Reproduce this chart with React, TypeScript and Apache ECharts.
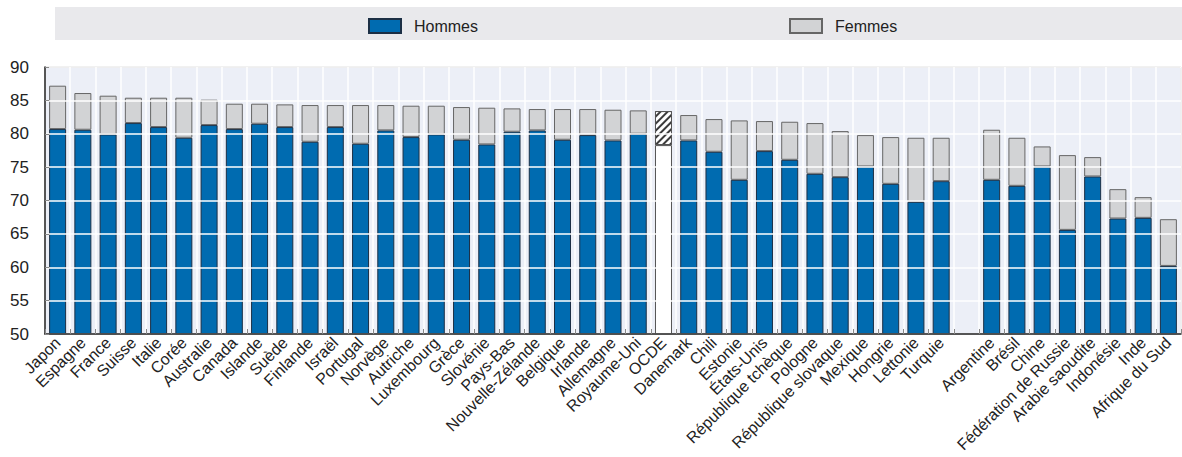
import React, { useEffect, useRef } from "react";
import * as echarts from "echarts";

const categories = [
  "Japon", "Espagne", "France", "Suisse", "Italie", "Corée", "Australie", "Canada", "Islande", "Suède",
  "Finlande", "Israël", "Portugal", "Norvège", "Autriche", "Luxembourg", "Grèce", "Slovénie", "Pays-Bas",
  "Nouvelle-Zélande", "Belgique", "Irlande", "Allemagne", "Royaume-Uni", "OCDE", "Danemark", "Chili",
  "Estonie", "États-Unis", "République tchèque", "Pologne", "République slovaque", "Mexique", "Hongrie",
  "Lettonie", "Turquie", "", "Argentine", "Brésil", "Chine", "Fédération de Russie", "Arabie saoudite",
  "Indonésie", "Inde", "Afrique du Sud",
];

const hommes: (number | null)[] = [
  80.7, 80.6, 79.9, 81.6, 81.0, 79.4, 81.3, 80.7, 81.5, 81.0,
  78.8, 81.0, 78.5, 80.5, 79.5, 79.9, 79.1, 78.4, 80.3,
  80.5, 79.1, 79.8, 79.0, 80.0, 78.3, 79.0, 77.3,
  73.1, 77.4, 76.1, 74.0, 73.5, 75.1, 72.5,
  69.8, 72.9, null, 73.1, 72.2, 75.1, 65.6, 73.6,
  67.3, 67.4, 60.2,
];

const femmes: (number | null)[] = [
  87.2, 86.1, 85.7, 85.4, 85.4, 85.4, 85.1, 84.5, 84.5, 84.4,
  84.3, 84.3, 84.3, 84.3, 84.2, 84.2, 84.0, 83.9, 83.8,
  83.7, 83.7, 83.7, 83.6, 83.5, 83.4, 82.8, 82.2,
  82.0, 81.9, 81.8, 81.6, 80.4, 79.8, 79.5,
  79.4, 79.4, null, 80.6, 79.4, 78.1, 76.8, 76.5,
  71.7, 70.5, 67.2,
];

const yTicks = [50, 55, 60, 65, 70, 75, 80, 85, 90];

const BLUE = "#006bb0";
const GREY = "#d2d3d5";
const FONT = "Arial, 'Liberation Sans', sans-serif";
const OECD_INDEX = categories.indexOf("OCDE");

export default function App() {
  const ref = useRef<HTMLDivElement>(null);

  useEffect(() => {
    document.body.style.margin = "0";
    if (!ref.current) return;
    const chart = echarts.init(ref.current, null, { renderer: "svg" });

    const hommesData = hommes.map((v, i) => {
      if (v === null) return "-";
      if (i === OECD_INDEX) {
        return {
          value: v,
          itemStyle: { color: "#ffffff", borderColor: "#555555", borderWidth: 1 },
        };
      }
      return v;
    });

    const femmesData = femmes.map((v, i) => {
      const h = hommes[i];
      if (v === null || h === null) return "-";
      const diff = Math.round((v - h) * 100) / 100;
      if (i === OECD_INDEX) {
        return {
          value: diff,
          itemStyle: {
            color: "#ffffff",
            borderColor: "#555555",
            borderWidth: 1,
            decal: {
              symbol: "rect",
              symbolSize: 1,
              color: "#3c3c3c",
              backgroundColor: "#ffffff",
              dashArrayX: [1, 0],
              dashArrayY: [2, 3],
              rotation: -Math.PI / 4,
            },
          },
        };
      }
      return diff;
    });

    const legendText = { fontSize: 16, color: "#222", fontFamily: FONT, padding: [0, 0, 0, 8] };

    chart.setOption({
      animation: false,
      textStyle: { fontFamily: FONT },
      graphic: [
        {
          type: "rect",
          shape: { x: 55, y: 7, width: 1127, height: 33 },
          style: { fill: "#e9e9ec" },
          z: -10,
        },
      ],
      legend: [
        {
          data: ["Hommes"],
          left: 368,
          top: 18,
          padding: 0,
          itemWidth: 32,
          itemHeight: 14,
          icon: "rect",
          textStyle: legendText,
          selectedMode: false,
        },
        {
          data: ["Femmes"],
          left: 789,
          top: 18,
          padding: 0,
          itemWidth: 32,
          itemHeight: 14,
          icon: "rect",
          textStyle: legendText,
          selectedMode: false,
        },
      ],
      grid: {
        left: 45,
        right: 1,
        top: 67,
        bottom: 123,
        show: true,
        backgroundColor: "#eceff7",
        borderColor: "#8a8a8a",
        borderWidth: 1,
      },
      xAxis: {
        type: "category",
        data: categories,
        axisLine: { show: true, lineStyle: { color: "#222", width: 1.5 } },
        axisTick: { show: true, inside: true, length: 5, lineStyle: { color: "#888" } },
        splitLine: { show: true, lineStyle: { color: "#ffffff", width: 1.5 } },
        axisLabel: {
          rotate: 45,
          interval: 0,
          fontSize: 16,
          color: "#222",
          margin: 6,
          fontFamily: FONT,
        },
        z: 10,
      },
      yAxis: {
        type: "value",
        min: yTicks[0],
        max: yTicks[yTicks.length - 1],
        interval: 5,
        axisLine: { show: true, lineStyle: { color: "#222", width: 1.5 } },
        axisTick: { show: true, inside: true, length: 4, lineStyle: { color: "#888" } },
        splitLine: { show: true, lineStyle: { color: "#ffffff", width: 1.5 } },
        axisLabel: { fontSize: 17, color: "#222", margin: 16, fontFamily: FONT },
        z: 10,
      },
      series: [
        {
          name: "Hommes",
          type: "bar",
          stack: "total",
          barWidth: 17,
          data: hommesData,
          itemStyle: { color: BLUE, borderColor: "#1c2f45", borderWidth: 1 },
        },
        {
          name: "Femmes",
          type: "bar",
          stack: "total",
          barWidth: 17,
          data: femmesData,
          itemStyle: { color: GREY, borderColor: "#666666", borderWidth: 1 },
        },
      ],
    });

    return () => chart.dispose();
  }, []);

  return <div ref={ref} style={{ width: 1182, height: 457 }} />;
}
